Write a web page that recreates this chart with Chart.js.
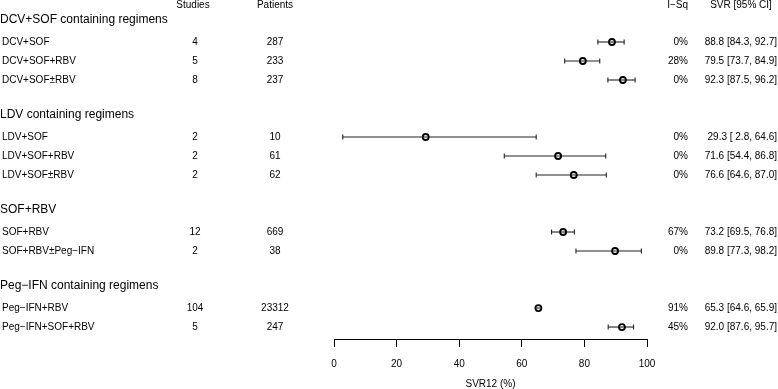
<!DOCTYPE html>
<html>
<head>
<meta charset="utf-8">
<script src="https://cdn.jsdelivr.net/npm/chart.js@4"></script>
<style>
  html, body { margin: 0; padding: 0; background: #fff; }
  #wrap { width: 778px; height: 389px; }
</style>
</head>
<body>
<div id="wrap"><canvas id="forest" width="778" height="389"></canvas></div>
<script>
// forest plot — SVR12 by regimen
const groupNames = ['DCV+SOF containing regimens', 'LDV containing regimens', 'SOF+RBV', 'Peg\u2212IFN containing regimens'];
const groupSizes = [3, 3, 2, 2];
const regimens = ['DCV+SOF', 'DCV+SOF+RBV', 'DCV+SOF\u00b1RBV', 'LDV+SOF', 'LDV+SOF+RBV', 'LDV+SOF\u00b1RBV',
  'SOF+RBV', 'SOF+RBV\u00b1Peg\u2212IFN', 'Peg\u2212IFN+RBV', 'Peg\u2212IFN+SOF+RBV'];
const studies  = [4, 5, 8, 2, 2, 2, 12, 2, 104, 5];
const patients = [287, 233, 237, 10, 61, 62, 669, 38, 23312, 247];
const iSq      = [0, 28, 0, 0, 0, 0, 67, 0, 91, 45];
const svr      = [88.8, 79.5, 92.3, 29.3, 71.6, 76.6, 73.2, 89.8, 65.3, 92.0];
const ciLow    = [84.3, 73.7, 87.5, 2.8, 54.4, 64.6, 69.5, 77.3, 64.6, 87.6];
const ciHigh   = [92.7, 84.9, 96.2, 64.6, 86.8, 87.0, 76.8, 98.2, 65.9, 95.7];
const xTicks   = [0, 20, 40, 60, 80, 100];

// row index: header, members, blank line, next header...
const headerRow = [];
const rowOf = [];
let r = 0;
groupSizes.forEach((n, g) => {
  headerRow.push(r++);
  for (let i = 0; i < n; i++) rowOf.push(r++);
  r++;
});

const FONT = "'Liberation Sans', Arial, sans-serif";

const ciSets = regimens.map((name, i) => ({
  type: 'line',
  data: [{ x: ciLow[i], y: rowOf[i] }, { x: ciHigh[i], y: rowOf[i] }],
  borderColor: '#222',
  borderWidth: 1.1,
  pointStyle: 'line',
  rotation: 90,
  pointRadius: ctx => {
    const xs = ctx.chart.scales.x;
    if (!xs) return 2.5;
    const w = xs.getPixelForValue(ciHigh[i]) - xs.getPixelForValue(ciLow[i]);
    return w < 7 ? 0 : 2.5;
  },
  pointBorderColor: '#222',
  pointBorderWidth: 1.1,
  order: 2
}));

const pointSet = {
  type: 'scatter',
  data: svr.map((v, i) => ({ x: v, y: rowOf[i] })),
  pointStyle: 'circle',
  pointRadius: 3,
  pointBorderWidth: 1.8,
  pointBorderColor: '#000',
  pointBackgroundColor: 'rgba(0,0,0,0)',
  order: 0
};

const textPlugin = {
  id: 'forestText',
  afterDraw(chart) {
    const { ctx } = chart;
    const ys = chart.scales.y;
    ctx.save();
    ctx.fillStyle = '#000';
    ctx.textBaseline = 'middle';

    // column headers
    ctx.font = '10px ' + FONT;
    const hy = ys.getPixelForValue(-1) + 1;
    ctx.textAlign = 'center';
    ctx.fillText('Studies', 193, hy);
    ctx.fillText('Patients', 275, hy);
    ctx.fillText('SVR [95% CI]', 741, hy);
    ctx.textAlign = 'right';
    ctx.fillText('I\u2212Sq', 688, hy);

    // group headers
    ctx.font = '12px ' + FONT;
    ctx.textAlign = 'left';
    groupNames.forEach((g, k) => {
      ctx.fillText(g, 0, ys.getPixelForValue(headerRow[k]) - 3);
    });

    // regimen rows
    ctx.font = '10px ' + FONT;
    regimens.forEach((name, i) => {
      const y = ys.getPixelForValue(rowOf[i]);
      ctx.textAlign = 'left';
      ctx.fillText(name, 2, y);
      ctx.textAlign = 'center';
      ctx.fillText(String(studies[i]), 195, y);
      ctx.fillText(String(patients[i]), 275, y);
      ctx.textAlign = 'right';
      ctx.fillText(iSq[i] + '%', 688, y);
      const lo = ciLow[i].toFixed(1).padStart(4, ' ');
      ctx.fillText(`${svr[i].toFixed(1)} [${lo}, ${ciHigh[i].toFixed(1)}]`, 777, y);
    });
    ctx.restore();
  }
};

new Chart(document.getElementById('forest'), {
  data: { datasets: [...ciSets, pointSet] },
  options: {
    responsive: false,
    animation: false,
    layout: { autoPadding: false, padding: { left: 334, right: 131, top: 0, bottom: 0 } },
    plugins: { legend: { display: false }, tooltip: { enabled: false } },
    scales: {
      x: {
        type: 'linear',
        position: 'bottom',
        min: 0, max: 100,
        afterBuildTicks: s => { s.ticks = xTicks.map(v => ({ value: v })); },
        afterFit: s => { s.height = 50; },
        border: { display: true, color: '#000', width: 1 },
        grid: { display: true, drawOnChartArea: false, drawTicks: true, tickLength: 8, color: '#000', lineWidth: 1 },
        ticks: { color: '#000', font: { family: FONT, size: 10 }, padding: 11, maxRotation: 0 },
        title: { display: true, text: 'SVR12 (%)', color: '#000', font: { family: FONT, size: 10 }, padding: { top: 0, bottom: -1 } }
      },
      y: {
        type: 'linear',
        display: false,
        reverse: true,
        min: -1.21, max: 16.63
      }
    }
  },
  plugins: [textPlugin]
});
</script>
</body>
</html>
